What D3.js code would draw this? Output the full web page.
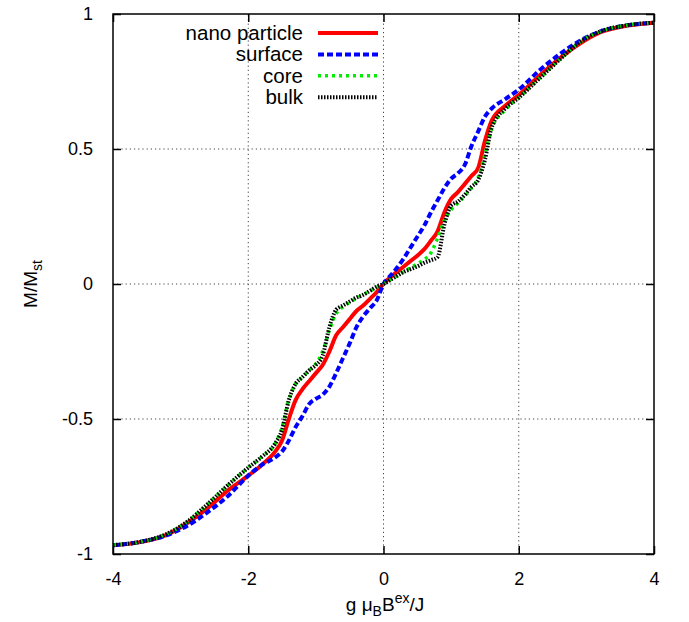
<!DOCTYPE html>
<html>
<head>
<meta charset="utf-8">
<script src="https://cdn.jsdelivr.net/npm/d3@7"></script>
<style>
  body { margin: 0; background: #fff; }
  text { font-family: "Liberation Sans", Arial, Helvetica, sans-serif; fill: #000; }
</style>
</head>
<body>
<div id="chart"></div>
<script>
var width = 689, height = 622;
var margin = { left: 113, right: 35, top: 14, bottom: 68 };

// applied field g muB Bex / J
var fieldB = [-4, -3.6, -3.2, -2.9, -2.6, -2.3, -2, -1.8, -1.6, -1.5, -1.4, -1.3, -1.2, -1.1, -1, -0.9, -0.8, -0.7,
              -0.6, -0.5, -0.4, -0.3, -0.2, -0.1, 0, 0.1, 0.2, 0.3, 0.4, 0.5, 0.6, 0.7, 0.8, 0.9, 1, 1.1, 1.2,
              1.3, 1.4, 1.5, 1.6, 1.8, 2, 2.3, 2.6, 2.9, 3.2, 3.6, 4];

var nanoM = [-0.968, -0.956, -0.928, -0.885, -0.83, -0.765, -0.71, -0.67, -0.62, -0.58, -0.50, -0.43, -0.39, -0.36, -0.33, -0.30, -0.25, -0.19,
             -0.16, -0.13, -0.10, -0.08, -0.055, -0.03, 0, 0.025, 0.045, 0.065, 0.085, 0.105, 0.128, 0.16, 0.195, 0.265, 0.315, 0.34, 0.37,
             0.40, 0.43, 0.53, 0.605, 0.66, 0.70, 0.77, 0.835, 0.89, 0.932, 0.957, 0.968];

var surfaceM = [-0.968, -0.955, -0.93, -0.895, -0.845, -0.785, -0.71, -0.67, -0.642, -0.62, -0.58, -0.53, -0.49, -0.445, -0.425, -0.41, -0.38, -0.33,
                -0.275, -0.22, -0.16, -0.12, -0.09, -0.06, 0, 0.03, 0.06, 0.095, 0.135, 0.175, 0.215, 0.265, 0.31, 0.355, 0.39, 0.41, 0.44,
                0.51, 0.565, 0.62, 0.65, 0.685, 0.72, 0.79, 0.85, 0.90, 0.935, 0.958, 0.968];

var coreM = [-0.967, -0.955, -0.925, -0.88, -0.815, -0.745, -0.68, -0.64, -0.59, -0.53, -0.43, -0.37, -0.345, -0.32, -0.295, -0.25, -0.17, -0.11,
             -0.085, -0.068, -0.053, -0.04, -0.026, -0.012, 0, 0.015, 0.03, 0.045, 0.06, 0.075, 0.09, 0.115, 0.17, 0.235, 0.275, 0.30, 0.325,
             0.355, 0.395, 0.48, 0.575, 0.645, 0.69, 0.76, 0.83, 0.895, 0.935, 0.958, 0.968];

var bulkM = [-0.967, -0.955, -0.925, -0.88, -0.815, -0.745, -0.68, -0.64, -0.59, -0.54, -0.43, -0.37, -0.345, -0.32, -0.30, -0.265, -0.16, -0.095,
             -0.08, -0.065, -0.05, -0.04, -0.025, -0.01, 0, 0.015, 0.03, 0.045, 0.055, 0.065, 0.078, 0.088, 0.10, 0.22, 0.29, 0.305, 0.33,
             0.36, 0.385, 0.46, 0.58, 0.65, 0.69, 0.76, 0.83, 0.895, 0.935, 0.958, 0.968];

var seriesNames = ["nano particle", "surface", "core", "bulk"];
var xTicks = [-4, -2, 0, 2, 4];
var yTicks = [-1, -0.5, 0, 0.5, 1];

var series = [
  { name: seriesNames[0], values: nanoM,    color: "#ff0000", dash: null,      w: 4 },
  { name: seriesNames[1], values: surfaceM, color: "#0000ff", dash: "6,3",     w: 4 },
  { name: seriesNames[2], values: coreM,    color: "#00ee00", dash: "3,4",     w: 3.5 },
  { name: seriesNames[3], values: bulkM,    color: "#000000", dash: "1.5,1.5", w: 4 }
];

var x = d3.scaleLinear().domain([-4, 4]).range([margin.left, width - margin.right]);
var y = d3.scaleLinear().domain([-1, 1]).range([height - margin.bottom, margin.top]);

var svg = d3.select("#chart").append("svg")
    .attr("width", width)
    .attr("height", height);

// grid
var grid = svg.append("g").attr("class", "grid");
grid.selectAll(".gx")
    .data(xTicks.filter(function(d) { return d > -4 && d < 4; }))
    .enter().append("line")
    .attr("x1", function(d) { return x(d); })
    .attr("x2", function(d) { return x(d); })
    .attr("y1", y(-1)).attr("y2", y(1))
    .attr("stroke", "#444").attr("stroke-width", 1).attr("stroke-dasharray", "1.2,3");
grid.selectAll(".gy")
    .data(yTicks.filter(function(d) { return d > -1 && d < 1; }))
    .enter().append("line")
    .attr("y1", function(d) { return y(d); })
    .attr("y2", function(d) { return y(d); })
    .attr("x1", x(-4)).attr("x2", x(4))
    .attr("stroke", "#444").attr("stroke-width", 1).attr("stroke-dasharray", "1.2,3");

// axes, ticks pointing inward
var xAxis = d3.axisBottom(x).tickValues(xTicks).tickSizeInner(-8).tickSizeOuter(0).tickPadding(18)
    .tickFormat(function(d) { return String(d); });
var yAxis = d3.axisLeft(y).tickValues(yTicks).tickSizeInner(-8).tickSizeOuter(0).tickPadding(20)
    .tickFormat(function(d) { return String(d); });

var gx = svg.append("g").attr("transform", "translate(0," + y(-1) + ")").call(xAxis);
var gy = svg.append("g").attr("transform", "translate(" + x(-4) + ",0)").call(yAxis);
svg.append("g").attr("transform", "translate(0," + y(1) + ")")
    .call(d3.axisTop(x).tickValues(xTicks).tickSizeInner(-8).tickSizeOuter(0).tickFormat(""));
svg.append("g").attr("transform", "translate(" + x(4) + ",0)")
    .call(d3.axisRight(y).tickValues(yTicks).tickSizeInner(-8).tickSizeOuter(0).tickFormat(""));

svg.selectAll(".tick line").attr("stroke", "#000").attr("stroke-width", 1.5);
svg.selectAll(".domain").remove();
svg.selectAll(".tick text").style("font-size", "18px")
    .style("font-family", "'Liberation Sans', Arial, sans-serif");

// curves
var line = d3.line()
    .x(function(d, i) { return x(fieldB[i]); })
    .y(function(d) { return y(d); })
    .curve(d3.curveMonotoneX);

var plot = svg.append("g");
series.forEach(function(s) {
  plot.append("path")
      .datum(s.values)
      .attr("d", line)
      .attr("fill", "none")
      .attr("stroke", s.color)
      .attr("stroke-width", s.w)
      .attr("stroke-dasharray", s.dash);
});

// frame
svg.append("rect")
    .attr("x", x(-4)).attr("y", y(1))
    .attr("width", x(4) - x(-4)).attr("height", y(-1) - y(1))
    .attr("fill", "none").attr("stroke", "#000").attr("stroke-width", 1.5);

// legend
var legend = svg.append("g");
var leg = legend.selectAll(".leg").data(series).enter().append("g")
    .attr("transform", function(d, i) { return "translate(0," + (33 + i * 21.4) + ")"; });
leg.append("text")
    .attr("x", 303).attr("y", 7)
    .attr("text-anchor", "end")
    .style("font-size", "20.5px")
    .text(function(d) { return d.name; });
leg.append("line")
    .attr("x1", 318).attr("x2", 378)
    .attr("y1", 0).attr("y2", 0)
    .attr("stroke", function(d) { return d.color; })
    .attr("stroke-width", function(d) { return d.w; })
    .attr("stroke-dasharray", function(d) { return d.dash; });

// axis titles
var xt = svg.append("text")
    .attr("x", 385).attr("y", 611)
    .attr("text-anchor", "middle")
    .style("font-size", "19px");
xt.append("tspan").text("g \u03bc");
xt.append("tspan").attr("dy", 5).style("font-size", "14px").text("B");
xt.append("tspan").attr("dy", -5).text("B");
xt.append("tspan").attr("dy", -8).style("font-size", "14px").text("ex");
xt.append("tspan").attr("dy", 8).text("/J");

var yt = svg.append("text")
    .attr("transform", "translate(37,284) rotate(-90)")
    .attr("text-anchor", "middle")
    .style("font-size", "19px");
yt.append("tspan").text("M/M");
yt.append("tspan").attr("dy", 5).style("font-size", "14px").text("st");
</script>
</body>
</html>
